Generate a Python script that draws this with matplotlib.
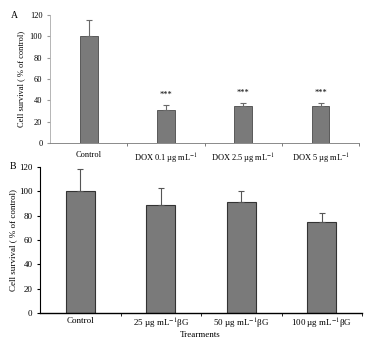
import matplotlib.pyplot as plt
import numpy as np

plt.rcParams['font.family'] = ['Liberation Serif', 'DejaVu Serif']
plt.rcParams['mathtext.fontset'] = 'stix'

# panel A - doxorubicin
labels_a = ['Control', r'DOX 0.1 µg mL$^{-1}$', r'DOX 2.5 µg mL$^{-1}$', r'DOX 5 µg mL$^{-1}$']
survival_a = [100, 31, 35, 35]
err_a = [15, 5, 3, 3]
signif_a = ['', '***', '***', '***']

# panel B - beta glucan
labels_b = ['Control', r'25 µg mL$^{-1}$βG', r'50 µg mL$^{-1}$βG', r'100 µg mL$^{-1}$βG']
survival_b = [100, 89, 91, 75]
err_b = [18, 14, 9, 7]

yticks = [0, 20, 40, 60, 80, 100, 120]

fig = plt.figure(figsize=(3.68, 3.44), dpi=100)

# ---- panel A
ax1 = fig.add_axes([0.136, 0.584, 0.84, 0.372])
x = np.arange(len(labels_a))
ax1.bar(x, survival_a, width=0.23, color='#7a7a7a', edgecolor='#4a4a4a', linewidth=0.6,
        yerr=[np.zeros(len(err_a)), err_a], error_kw=dict(ecolor='#6a6a6a', elinewidth=0.8, capsize=2, capthick=0.8))
for i in range(len(x)):
    if signif_a[i]:
        ax1.text(x[i], survival_a[i] + err_a[i] + 5, signif_a[i], ha='center', va='bottom', fontsize=6)
ax1.set_xlim(-0.5, 3.5)
ax1.set_ylim(0, 120)
ax1.set_yticks(yticks)
ax1.set_xticks(x)
ax1.set_xticklabels(labels_a, fontsize=6)
ax1.set_xticks([0.5, 1.5, 2.5, 3.5], minor=True)
ax1.tick_params(axis='x', which='major', length=0, pad=6)
ax1.tick_params(axis='x', which='minor', length=2, color='#666666')
ax1.tick_params(axis='y', labelsize=6, length=2, color='#999999')
ax1.set_ylabel('Cell survival ( % of control)', fontsize=6, labelpad=3)
for s in ['top', 'right']:
    ax1.spines[s].set_visible(False)
ax1.spines['left'].set_color('#aaaaaa')
ax1.spines['bottom'].set_color('#777777')
ax1.spines['left'].set_linewidth(0.6)
ax1.spines['bottom'].set_linewidth(0.6)
fig.text(0.03, 0.955, 'A', fontsize=7, va='center')

# ---- panel B
ax2 = fig.add_axes([0.109, 0.09, 0.875, 0.425])
x = np.arange(len(labels_b))
ax2.bar(x, survival_b, width=0.36, color='#7a7a7a', edgecolor='#333333', linewidth=0.8,
        yerr=[np.zeros(len(err_b)), err_b], error_kw=dict(ecolor='#555555', elinewidth=0.8, capsize=2, capthick=0.8))
ax2.set_xlim(-0.5, 3.5)
ax2.set_ylim(0, 120)
ax2.set_yticks(yticks)
ax2.set_xticks(x)
ax2.set_xticklabels(labels_b, fontsize=6.5)
ax2.set_xticks([0.5, 1.5, 2.5, 3.5], minor=True)
ax2.tick_params(axis='x', which='major', length=0, pad=3)
ax2.tick_params(axis='x', which='minor', length=2)
ax2.tick_params(axis='y', labelsize=6.5, length=2)
ax2.set_ylabel('Cell survival ( % of control)', fontsize=6.5, labelpad=1)
for s in ['top', 'right']:
    ax2.spines[s].set_visible(False)
ax2.spines['left'].set_linewidth(0.8)
ax2.spines['bottom'].set_linewidth(1.0)
fig.text(0.025, 0.515, 'B', fontsize=7, va='center')
fig.text(0.545, 0.026, 'Trearments', fontsize=6.5, ha='center', va='center')

fig.savefig('out.png', dpi=100)
